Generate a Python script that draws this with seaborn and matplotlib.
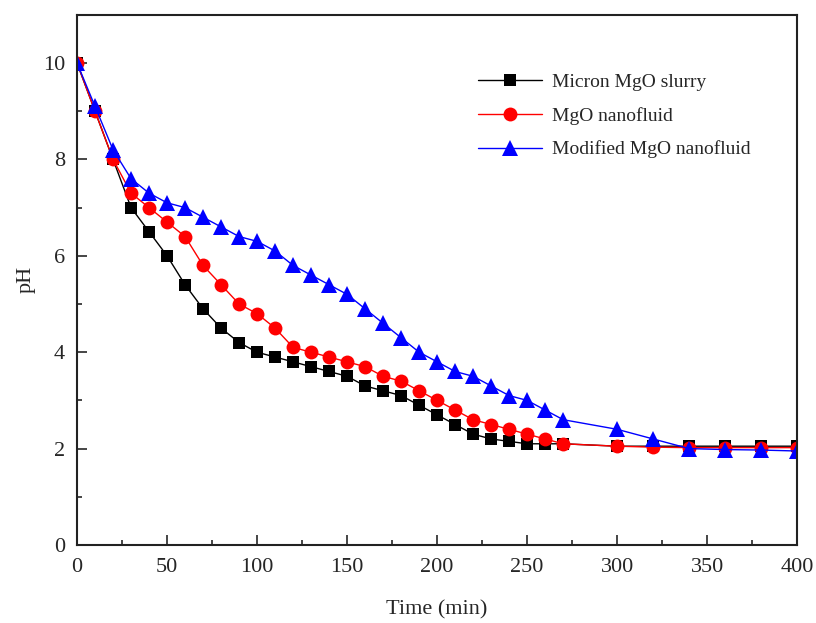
import matplotlib
matplotlib.use("Agg")
import matplotlib.pyplot as plt
import seaborn as sns
import pandas as pd
from matplotlib.ticker import MultipleLocator

time = [0, 10, 20, 30, 40, 50, 60, 70, 80, 90, 100, 110, 120, 130, 140, 150, 160, 170,
        180, 190, 200, 210, 220, 230, 240, 250, 260, 270, 300, 320, 340, 360, 380, 400]
micron = [10.0, 9.0, 8.0, 7.0, 6.5, 6.0, 5.4, 4.9, 4.5, 4.2, 4.0, 3.9, 3.8, 3.7, 3.6, 3.5, 3.3, 3.2,
          3.1, 2.9, 2.7, 2.5, 2.3, 2.2, 2.15, 2.1, 2.1, 2.1, 2.05, 2.05, 2.05, 2.05, 2.05, 2.05]
nano = [10.0, 9.0, 8.0, 7.3, 7.0, 6.7, 6.4, 5.8, 5.4, 5.0, 4.8, 4.5, 4.1, 4.0, 3.9, 3.8, 3.7, 3.5,
        3.4, 3.2, 3.0, 2.8, 2.6, 2.5, 2.4, 2.3, 2.2, 2.1, 2.05, 2.03, 2.02, 2.02, 2.02, 2.02]
modified = [10.0, 9.1, 8.2, 7.6, 7.3, 7.1, 7.0, 6.8, 6.6, 6.4, 6.3, 6.1, 5.8, 5.6, 5.4, 5.2, 4.9, 4.6,
            4.3, 4.0, 3.8, 3.6, 3.5, 3.3, 3.1, 3.0, 2.8, 2.6, 2.4, 2.2, 2.0, 1.98, 1.97, 1.95]
labels = ["Micron MgO slurry", "MgO nanofluid", "Modified MgO nanofluid"]

df = pd.concat([
    pd.DataFrame({"Time": time, "pH": vals, "Sample": lab})
    for vals, lab in zip([micron, nano, modified], labels)
], ignore_index=True)

sns.set_style("ticks")
plt.rcParams["font.family"] = ["Liberation Serif", "DejaVu Serif"]

fig = plt.figure(figsize=(8.16, 6.23), dpi=100)
ax = fig.add_axes([0.0944, 0.1252, 0.8826, 0.851])

colors = {labels[0]: "black", labels[1]: "red", labels[2]: "blue"}
markers = {labels[0]: "s", labels[1]: "o", labels[2]: "^"}
sizes = {labels[0]: 9.0, labels[1]: 10.0, labels[2]: 11.5}

for lab in labels:
    sub = df[df["Sample"] == lab]
    sns.lineplot(data=sub, x="Time", y="pH", ax=ax, color=colors[lab], marker=markers[lab],
                 markersize=sizes[lab], markeredgewidth=0, linewidth=1.0, label=lab)

ax.set_xlim(0, 400)
ax.set_ylim(0, 11)
ax.xaxis.set_major_locator(MultipleLocator(50))
ax.xaxis.set_minor_locator(MultipleLocator(25))
ax.yaxis.set_major_locator(MultipleLocator(2))
ax.yaxis.set_minor_locator(MultipleLocator(1))
ax.tick_params(which="both", direction="in", top=False, right=False, labelsize=16, width=1.2)
ax.tick_params(axis="x", which="both", pad=9)
ax.tick_params(axis="y", which="both", pad=8.5)
ax.tick_params(which="major", length=7.5)
ax.tick_params(which="minor", length=3.7)
for s in ax.spines.values():
    s.set_linewidth(1.5)
    s.set_color("#222222")
ax.set_xlabel("Time (min)", fontsize=16, labelpad=17)
ax.set_ylabel("pH", fontsize=16, labelpad=5)

ax.legend(loc="upper left", bbox_to_anchor=(0.557, 0.89), frameon=False, fontsize=14,
          handlelength=3.3, labelspacing=0.82, handletextpad=0.5, borderpad=0, borderaxespad=0)

fig.savefig("out.png", dpi=100)
